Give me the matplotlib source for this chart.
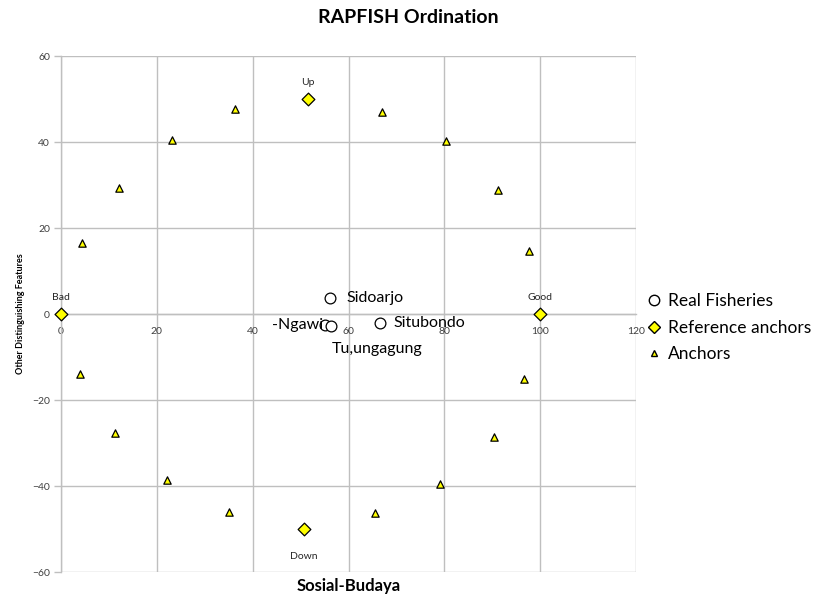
import matplotlib
matplotlib.use('Agg')
import matplotlib.pyplot as plt
from matplotlib.lines import Line2D

plt.rcParams['font.family'] = ['Lato', 'DejaVu Sans']

# Якоря (треугольники)
anchor_x = [4.4, 12.0, 23.1, 36.4, 66.9, 80.4, 91.1, 97.7,
            96.6, 90.4, 79.1, 65.6, 35.1, 22.2, 11.3, 4.0]
anchor_y = [16.5, 29.2, 40.4, 47.6, 46.9, 40.3, 28.8, 14.7,
            -15.2, -28.5, -39.6, -46.3, -46.1, -38.5, -27.7, -13.9]

# Опорные якоря (ромбы)
ref_names = ['Bad', 'Good', 'Up', 'Down']
ref_x = [0, 100, 51.6, 50.7]
ref_y = [0, 0, 50, -50]

# Реальные промыслы (кружки)
fish_names = ['Sidoarjo', '-Ngawi', 'Tu,ungagung', 'Situbondo']
fish_x = [56.2, 55.0, 56.3, 66.5]
fish_y = [3.7, -2.6, -2.7, -2.1]

x_ticks = [0, 20, 40, 60, 80, 100, 120]
y_ticks = [-60, -40, -20, 0, 20, 40, 60]

grid_col = '#BFBFBF'
yellow = '#FFFF00'

fig = plt.figure(figsize=(8.16, 5.99), dpi=100)
ax = fig.add_axes([61 / 816, 27 / 599, 575 / 816, 516 / 599])

ax.set_xlim(0, 120)
ax.set_ylim(-60, 60)
ax.set_xticks(x_ticks)
ax.set_yticks(y_ticks)
ax.grid(True, color=grid_col, linewidth=1.0)
ax.set_axisbelow(True)

ax.spines['top'].set_visible(False)
ax.spines['right'].set_visible(False)
ax.spines['bottom'].set_position(('data', 0))
ax.spines['bottom'].set_color(grid_col)
ax.spines['left'].set_color(grid_col)
ax.spines['bottom'].set_linewidth(1.0)
ax.spines['left'].set_linewidth(1.0)

ax.tick_params(axis='x', length=0, pad=9, labelsize=7.5, labelcolor='#404040')
ax.tick_params(axis='y', length=5, width=1.0, color=grid_col, pad=3,
               labelsize=7.5, labelcolor='#404040', direction='out')

# Точки
ax.scatter(anchor_x, anchor_y, marker='^', s=28, facecolor=yellow,
           edgecolor='black', linewidth=0.9, zorder=3, clip_on=False)
ax.scatter(ref_x, ref_y, marker='D', s=42, facecolor=yellow,
           edgecolor='black', linewidth=0.9, zorder=3, clip_on=False)
ax.scatter(fish_x, fish_y, marker='o', s=60, facecolor='white',
           edgecolor='black', linewidth=0.9, zorder=3)

# Подписи опорных якорей
ref_offsets = [(0, 12), (0, 12), (0, 12), (0, -20)]
for name, x, y, off in zip(ref_names, ref_x, ref_y, ref_offsets):
    ax.annotate(name, (x, y), xytext=off, textcoords='offset points',
                ha='center', va='center', fontsize=7.5, color='#262626')

# Подписи промыслов
fish_offsets = [(12, 0), (-1, 0), (1, -17), (10, 0)]
fish_ha = ['left', 'right', 'left', 'left']
for name, x, y, off, ha in zip(fish_names, fish_x, fish_y, fish_offsets, fish_ha):
    ax.annotate(name, (x, y), xytext=off, textcoords='offset points',
                ha=ha, va='center', fontsize=11.5, color='black', zorder=4)

ax.set_xlabel('Sosial-Budaya', fontsize=12, fontweight='bold')
ax.xaxis.set_label_coords(0.5, -0.012)
ax.set_ylabel('Other Distinguishing Features', fontsize=6.5, fontweight='bold')
ax.yaxis.set_label_coords(-0.063, 0.5)

fig.suptitle('RAPFISH Ordination', x=0.5, y=0.985, fontsize=14,
             fontweight='bold')

legend_elements = [
    Line2D([0], [0], marker='o', linestyle='none', markersize=7.5,
           markerfacecolor='white', markeredgecolor='black', label='Real Fisheries'),
    Line2D([0], [0], marker='D', linestyle='none', markersize=6.5,
           markerfacecolor=yellow, markeredgecolor='black', label='Reference anchors'),
    Line2D([0], [0], marker='^', linestyle='none', markersize=5,
           markerfacecolor=yellow, markeredgecolor='black', label='Anchors'),
]
fig.legend(handles=legend_elements, loc='upper left',
           bbox_to_anchor=(640 / 816, 1 - 286 / 599), frameon=False,
           fontsize=12.5, handlelength=0.8, handletextpad=0.4,
           labelspacing=0.62, borderaxespad=0)

fig.savefig('out.png', dpi=100)
